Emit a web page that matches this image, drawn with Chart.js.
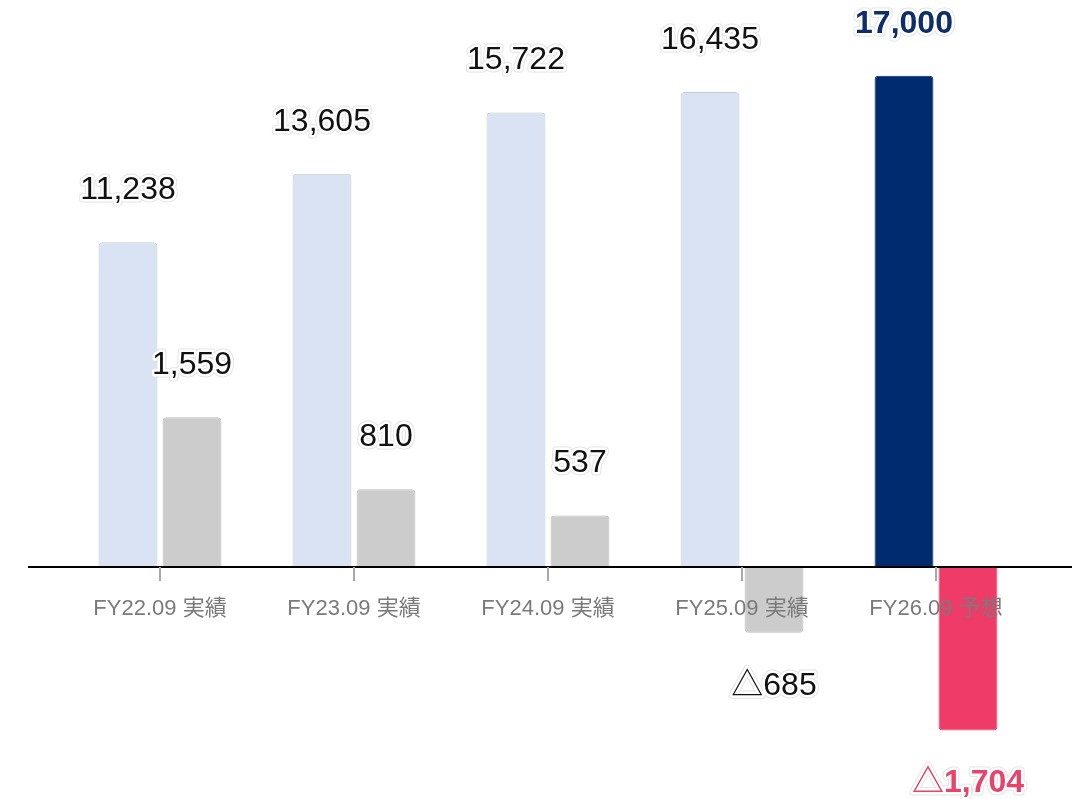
<!DOCTYPE html>
<html>
<head>
<meta charset="utf-8">
<title>売上高・営業利益の推移</title>
<script src="https://cdn.jsdelivr.net/npm/chart.js@4.4.1/dist/chart.umd.min.js"></script>
<style>
  html, body { margin: 0; padding: 0; background: #ffffff; }
  #wrap { width: 1081px; height: 799px; position: relative; }
</style>
</head>
<body>
<div id="wrap"><canvas id="c" width="1081" height="799"></canvas></div>
<script>
// Fiscal periods (actuals + forecast)
const categories = ['FY22.09 実績', 'FY23.09 実績', 'FY24.09 実績', 'FY25.09 実績', 'FY26.09 予想'];
// Net sales (left axis)
const sales = [11238, 13605, 15722, 16435, 17000];
// Operating profit (right axis)
const profit = [1559, 810, 537, -685, -1704];

const salesFill = ['#dae3f3', '#dae3f3', '#dae3f3', '#dae3f3', '#002b6e'];
const salesEdge = ['#c3cad6', '#c3cad6', '#c3cad6', '#c3cad6', '#002b6e'];
const profitFill = ['#cccccc', '#cccccc', '#cccccc', '#cccccc', '#ef3b67'];
const profitEdge = ['#bdbdbd', '#bdbdbd', '#bdbdbd', '#bdbdbd', '#ef3b67'];

const FONT = '"Liberation Sans", Arial, "Noto Sans CJK JP", "DejaVu Sans", sans-serif';

function fmt(v) {
  const s = Math.abs(v).toLocaleString('en-US');
  return v < 0 ? '△' + s : s;
}

// Value labels with a white halo, placed beyond the end of each bar
const valueLabels = {
  id: 'valueLabels',
  afterDraw(chart) {
    const ctx = chart.ctx;
    ctx.save();
    ctx.textAlign = 'center';
    ctx.textBaseline = 'middle';
    ctx.lineJoin = 'round';
    chart.data.datasets.forEach((ds, di) => {
      const meta = chart.getDatasetMeta(di);
      meta.data.forEach((bar, i) => {
        const v = ds.data[i];
        const last = i === ds.data.length - 1;
        const y = v >= 0 ? bar.y - 52 : bar.y + 53;
        ctx.font = (last ? 'bold ' : '') + '32px ' + FONT;
        ctx.lineWidth = 7;
        ctx.strokeStyle = 'rgba(225,225,225,0.9)';
        ctx.strokeText(fmt(v), bar.x, y);
        ctx.lineWidth = 5;
        ctx.strokeStyle = '#ffffff';
        ctx.strokeText(fmt(v), bar.x, y);
        ctx.fillStyle = last ? ds.labelAccent : '#111111';
        ctx.fillText(fmt(v), bar.x, y);
      });
    });
    ctx.restore();
  }
};

// Zero baseline running past the plot area
const zeroLine = {
  id: 'zeroLine',
  afterDatasetsDraw(chart) {
    const ctx = chart.ctx;
    const y0 = chart.scales.y.getPixelForValue(0);
    ctx.save();
    ctx.strokeStyle = '#000000';
    ctx.lineWidth = 2;
    ctx.beginPath();
    ctx.moveTo(28, y0);
    ctx.lineTo(1072, y0);
    ctx.stroke();
    ctx.restore();
  }
};

new Chart(document.getElementById('c'), {
  type: 'bar',
  data: {
    labels: categories,
    datasets: [
      {
        label: '売上高',
        data: sales,
        yAxisID: 'y',
        backgroundColor: salesFill,
        borderColor: salesEdge,
        borderWidth: 1,
        borderRadius: 4,
        labelAccent: '#0d2d6c',
        categoryPercentage: 0.66,
        barPercentage: 0.92
      },
      {
        label: '営業利益',
        data: profit,
        yAxisID: 'y1',
        backgroundColor: profitFill,
        borderColor: profitEdge,
        borderWidth: 1,
        borderRadius: 4,
        labelAccent: '#e8436a',
        categoryPercentage: 0.66,
        barPercentage: 0.92
      }
    ]
  },
  options: {
    responsive: false,
    devicePixelRatio: 1,
    animation: false,
    layout: { padding: { left: 63, right: 48, top: 0, bottom: 0 } },
    plugins: {
      legend: { display: false },
      tooltip: { enabled: false }
    },
    scales: {
      x: {
        position: { y: 0 },
        grid: {
          display: true,
          offset: false,
          drawOnChartArea: false,
          drawTicks: true,
          tickLength: 14,
          color: '#a8a8a8',
          lineWidth: 2,
          z: 1
        },
        border: { display: false },
        ticks: {
          z: 1,
          color: '#7a7a7a',
          padding: 15,
          font: { size: 22, family: FONT }
        }
      },
      y: {
        display: false,
        min: -8028,
        max: 19619
      },
      y1: {
        display: false,
        position: 'right',
        min: -2417,
        max: 5906
      }
    }
  },
  plugins: [zeroLine, valueLabels]
});
</script>
</body>
</html>
